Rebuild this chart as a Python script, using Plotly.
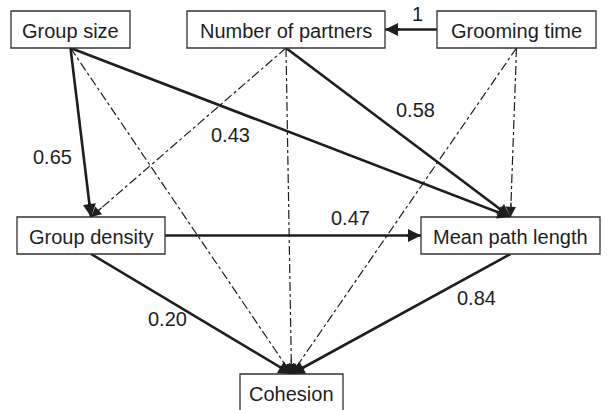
import math
import plotly.graph_objects as go

# ---------------- data ----------------
node_names = ["Group size", "Number of partners", "Grooming time",
              "Group density", "Mean path length", "Cohesion"]

edge_from = ["Grooming time", "Group size", "Group size", "Group size",
             "Number of partners", "Number of partners", "Number of partners",
             "Grooming time", "Grooming time", "Group density",
             "Group density", "Mean path length"]
edge_to = ["Number of partners", "Group density", "Mean path length", "Cohesion",
           "Group density", "Mean path length", "Cohesion",
           "Mean path length", "Cohesion", "Mean path length",
           "Cohesion", "Cohesion"]
edge_coef = ["1", "0.65", "0.43", None,
             None, "0.58", None,
             None, None, "0.47",
             "0.20", "0.84"]

# ---------------- layout geometry (pixel space) ----------------
node_cx = [70.5, 286, 516.5, 91, 510.5, 291.5]
node_cy = [29.5, 29.5, 29.5, 235.5, 235.5, 392.5]
node_w = [119, 198, 159, 148, 179, 103]
node_h = 37

label_pos = {
    ("Grooming time", "Number of partners"): (417, 14),
    ("Group size", "Group density"): (52, 157),
    ("Group size", "Mean path length"): (230, 135),
    ("Number of partners", "Mean path length"): (415, 110),
    ("Group density", "Mean path length"): (350, 218),
    ("Group density", "Cohesion"): (167, 319),
    ("Mean path length", "Cohesion"): (476, 298),
}

W, H = 607, 410
INK = "#1e1e1e"
FONT = "Liberation Sans, Arial, sans-serif"
FS = 20

idx = {n: i for i, n in enumerate(node_names)}

fig = go.Figure()
annotations = []
shapes = []

# boxes
for i, n in enumerate(node_names):
    shapes.append(dict(type="rect", xref="x", yref="y",
                       x0=node_cx[i] - node_w[i] / 2, x1=node_cx[i] + node_w[i] / 2,
                       y0=node_cy[i] - node_h / 2, y1=node_cy[i] + node_h / 2,
                       line=dict(color="#333333", width=1.3), fillcolor="white",
                       layer="above"))
    annotations.append(dict(x=node_cx[i], y=node_cy[i] + 1, xref="x", yref="y",
                            text=n, showarrow=False,
                            font=dict(family=FONT, size=FS, color=INK)))


def anchors(s, t):
    si, ti = idx[s], idx[t]
    if node_cy[si] == node_cy[ti]:
        d = 1 if node_cx[ti] > node_cx[si] else -1
        return ((node_cx[si] + d * node_w[si] / 2, node_cy[si]),
                (node_cx[ti] - d * node_w[ti] / 2, node_cy[ti]))
    return ((node_cx[si], node_cy[si] + node_h / 2),
            (node_cx[ti], node_cy[ti] - node_h / 2))


for s, t, c in zip(edge_from, edge_to, edge_coef):
    (x0, y0), (x1, y1) = anchors(s, t)
    solid = c is not None
    lw = 2.6 if solid else 1.2
    fig.add_trace(go.Scatter(
        x=[x0, x1], y=[y0, y1], mode="lines",
        line=dict(color=INK, width=lw, dash="solid" if solid else "dashdot"),
        hoverinfo="skip", showlegend=False))
    L = math.hypot(x1 - x0, y1 - y0)
    ux, uy = (x1 - x0) / L, (y1 - y0) / L
    back = 16
    annotations.append(dict(
        x=x1, y=y1, ax=x1 - ux * back, ay=y1 - uy * back,
        xref="x", yref="y", axref="x", ayref="y",
        text="", showarrow=True, arrowhead=2,
        arrowsize=1.0 if solid else 1.7, arrowwidth=lw,
        arrowcolor=INK, standoff=0))
    if solid:
        lx, ly = label_pos[(s, t)]
        annotations.append(dict(x=lx, y=ly, xref="x", yref="y", text=c,
                                showarrow=False,
                                font=dict(family=FONT, size=FS, color=INK)))

fig.update_layout(
    width=W, height=H,
    margin=dict(l=0, r=0, t=0, b=0),
    paper_bgcolor="white", plot_bgcolor="white",
    xaxis=dict(range=[0, W], visible=False, fixedrange=True),
    yaxis=dict(range=[H, 0], visible=False, fixedrange=True),
    shapes=shapes, annotations=annotations,
)

fig.write_html("out.html", config={"displayModeBar": False},
               post_script="document.body.style.margin='0';document.body.style.overflow='hidden';")
